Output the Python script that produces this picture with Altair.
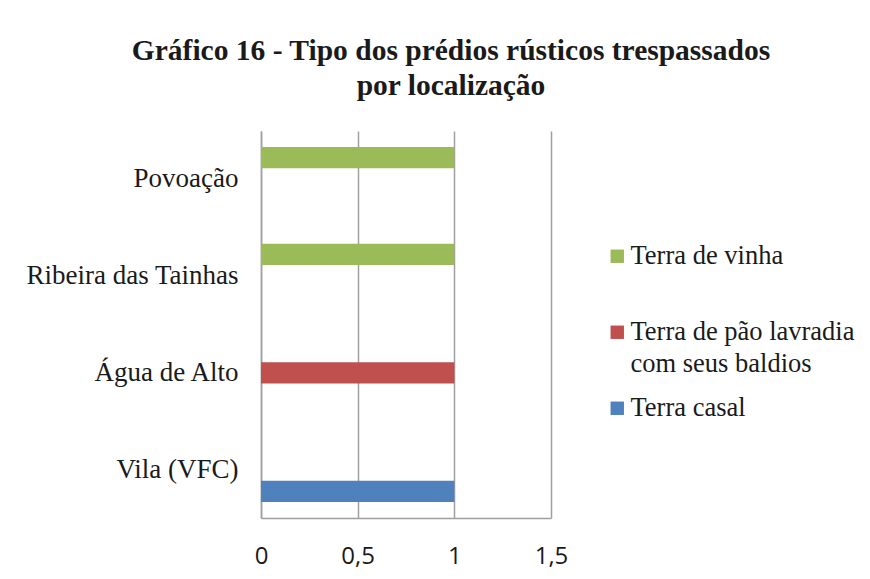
import altair as alt
import pandas as pd

locations = ["Povoação", "Ribeira das Tainhas", "Água de Alto", "Vila (VFC)"]
types = ["Terra de vinha", "Terra de vinha",
         "Terra de pão lavradia com seus baldios", "Terra casal"]
values = [1, 1, 1, 1]

series_order = ["Terra de vinha", "Terra de pão lavradia com seus baldios", "Terra casal"]
series_colors = ["#9BBB59", "#C0504D", "#4F81BD"]
x_ticks = [0, 0.5, 1, 1.5]

df = pd.DataFrame({"local": locations, "tipo": types, "valor": values})

grid_gray = "#A0A0A0"
serif = "Liberation Serif"

legend_label_expr = (
    "datum.label == 'Terra de pão lavradia com seus baldios' ? "
    "['Terra de pão lavradia', 'com seus baldios'] : "
    "(datum.label == 'Terra de vinha' ? ['Terra de vinha', ''] : datum.label)"
)

chart = alt.Chart(df).mark_bar().encode(
    y=alt.Y("local:N", sort=locations,
            scale=alt.Scale(paddingInner=0.33, paddingOuter=0.165),
            axis=alt.Axis(title=None, ticks=False, domain=True, domainColor=grid_gray,
                          domainWidth=1.5, labelFont=serif, labelFontSize=27,
                          labelColor="#1a1a1a", labelPadding=23, labelLimit=400, grid=False)),
    yOffset=alt.YOffset("tipo:N", scale=alt.Scale(domain=series_order, paddingInner=0.03, paddingOuter=0)),
    x=alt.X("valor:Q", scale=alt.Scale(domain=[0, 1.5], nice=False),
            axis=alt.Axis(title=None, values=x_ticks, ticks=False, domain=True,
                          domainColor=grid_gray, domainWidth=1.5, grid=True,
                          gridColor=grid_gray, gridWidth=1.5, labelFlush=False,
                          labelFont="Open Sans", labelFontSize=24, labelColor="#1a1a1a",
                          labelPadding=26,
                          labelExpr="replace(format(datum.value, ''), '.', ',')")),
    color=alt.Color("tipo:N", scale=alt.Scale(domain=series_order, range=series_colors),
                    legend=alt.Legend(title=None, orient="none", legendX=343, legendY=112,
                                      symbolType="square", symbolSize=180,
                                      symbolStrokeWidth=0, labelFont=serif,
                                      labelOffset=0, rowPadding=17, labelLimit=400,
                                      labelBaseline="middle",
                                      labelExpr=legend_label_expr)),
).properties(
    width=290,
    height=387,
    title=alt.TitleParams(
        text=["Gráfico 16 - Tipo dos prédios rústicos trespassados", "por localização"],
        font=serif, fontSize=29.5, fontWeight="bold", color="#1a1a1a",
        anchor="middle", dx=45, offset=30, lineHeight=35),
    autosize=alt.AutoSizeParams(type="none"),
    padding={"left": 253, "top": 123, "right": 311, "bottom": 60},
).configure(
    font=serif,
    style={"guide-label": {"font": serif, "lineHeight": 32}},
).configure_view(stroke=None).configure_legend(
    labelFont=serif, labelFontSize=26.5, labelColor="#1a1a1a", labelLimit=400
)

chart.save("out.html", embed_options={"renderer": "svg", "actions": False})
